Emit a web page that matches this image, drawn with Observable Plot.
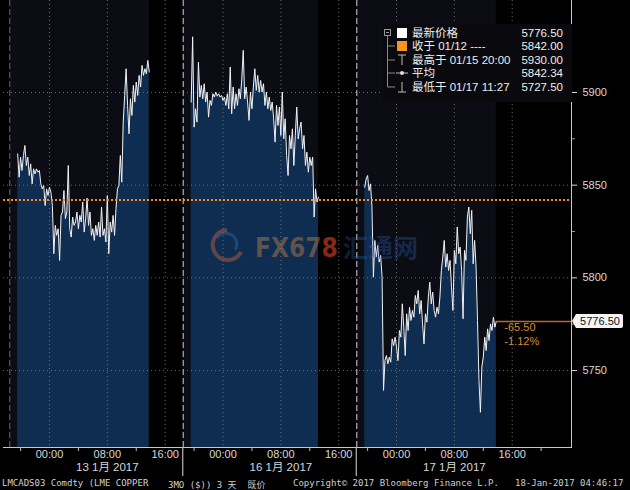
<!DOCTYPE html>
<html><head><meta charset="utf-8">
<script src="https://cdn.jsdelivr.net/npm/d3@7"></script>
<script src="https://cdn.jsdelivr.net/npm/@observablehq/plot@0.6"></script>
<style>
html,body{margin:0;padding:0;background:#000;}
#wrap{position:relative;width:630px;height:490px;overflow:hidden;background:#000;font-family:"Liberation Sans","Noto Sans CJK SC",sans-serif;}
#chart{position:absolute;left:0;top:0;}
#footer{position:absolute;left:0;top:476px;width:630px;height:14px;font-family:"DejaVu Sans Mono","Noto Sans CJK SC",monospace;font-size:9px;color:#cfcfcf;}
#footer span{position:absolute;top:2px;white-space:pre;}
#legend{position:absolute;left:383px;top:24px;width:189px;height:78px;background:#0a0a0e;color:#ececec;font-size:11.5px;}
#legend .row{position:absolute;left:0;width:189px;height:14px;line-height:14px;}
#legend .lab{position:absolute;left:29px;font-family:"Liberation Sans","Noto Sans CJK SC",sans-serif;white-space:pre;}
#legend .val{position:absolute;right:9px;font-family:"Liberation Sans",sans-serif;}
#wm{position:absolute;left:205px;top:224px;}
</style></head>
<body><div id="wrap"><div id="chart"></div><div id="wm"></div><div id="legend"></div><div id="footer"></div></div>
<script>
// ---- data (prices, 12-minute steps) ----
const day13 = [5866.9,5854.3,5865.1,5857.9,5866.0,5871.4,5860.6,5865.1,5855.2,5861.5,5850.7,5858.8,5856.1,5858.8,5857.0,5857.9,5850.7,5848.0,5849.8,5839.0,5848.0,5844.4,5848.9,5846.2,5839.0,5813.0,5828.3,5822.9,5826.5,5809.4,5833.7,5835.5,5847.1,5831.9,5835.5,5860.6,5826.5,5822.0,5832.8,5828.3,5830.1,5835.5,5826.5,5833.7,5830.1,5840.9,5824.7,5831.9,5843.0,5828.3,5835.5,5822.9,5826.5,5820.2,5828.3,5822.9,5830.1,5822.0,5838.2,5822.9,5826.5,5819.3,5844.4,5813.0,5830.1,5824.7,5833.7,5822.9,5837.3,5848.0,5849.8,5866.0,5851.6,5884.0,5898.4,5912.8,5893.0,5877.7,5896.6,5887.6,5903.8,5894.8,5905.6,5898.4,5909.2,5902.9,5914.6,5909.2,5912.8,5910.1,5917.3,5911.0];
const day16 = [5894.8,5930.0,5881.3,5891.2,5884.0,5916.4,5897.5,5903.8,5896.6,5904.7,5894.8,5900.2,5886.7,5895.7,5893.0,5899.3,5897.5,5900.2,5898.0,5899.3,5897.5,5898.4,5895.7,5897.5,5893.0,5899.3,5891.2,5913.7,5888.5,5902.9,5891.2,5899.3,5893.0,5902.0,5896.6,5907.4,5922.7,5896.6,5902.9,5894.8,5884.9,5900.2,5891.2,5902.9,5912.8,5901.1,5909.2,5900.2,5906.5,5900.2,5904.7,5893.0,5900.2,5891.2,5897.5,5890.3,5894.8,5885.8,5873.2,5893.0,5882.2,5892.1,5876.8,5900.2,5875.0,5885.8,5866.0,5855.2,5876.8,5869.6,5880.4,5860.6,5876.8,5892.1,5875.0,5880.4,5884.0,5869.6,5876.8,5860.6,5867.8,5857.0,5865.1,5860.6,5865.1,5832.8,5848.0,5840.9,5843.5];
const day17 = [5848.9,5853.4,5855.2,5847.1,5850.7,5838.2,5800.4,5820.2,5811.2,5817.5,5808.5,5812.1,5800.4,5739.3,5755.4,5758.1,5753.6,5757.2,5754.5,5767.1,5763.5,5768.0,5762.6,5755.4,5771.6,5768.0,5786.0,5773.4,5758.1,5780.6,5771.6,5784.2,5777.0,5782.4,5778.8,5790.5,5786.0,5793.2,5780.6,5787.8,5775.2,5764.4,5780.6,5776.1,5789.6,5797.7,5786.0,5792.3,5782.4,5778.8,5784.2,5780.6,5789.6,5804.0,5811.2,5820.2,5805.8,5813.0,5804.0,5809.4,5795.0,5782.4,5814.8,5807.6,5827.4,5813.0,5816.6,5804.0,5777.9,5814.8,5809.4,5832.8,5838.2,5823.8,5836.4,5807.6,5820.2,5805.8,5777.0,5744.7,5727.5,5751.9,5757.2,5768.0,5760.8,5772.5,5766.2,5775.2,5771.6,5778.8,5773.4,5776.5];
const segStarts = [-4.4, 19.6, 43.6];   // hours from 13 Jan 00:00 (weekend removed)
const stepH = 0.2;
const sessStart = [-5.5, 18.5, 42.5];
const sessEnd = [13.8, 37.2, 61.8];
const dividers = [-5.5, 18.5, 42.5];
const xTicks = [0, 8, 16, 24, 32, 40, 48, 56, 64];
const xTickLabels = ["00:00","08:00","16:00","00:00","08:00","16:00","00:00","08:00","16:00"];
const minorXTicks = [-4, 4, 12, 20, 28, 36, 44, 52, 60, 68];
const dayCenters = [8, 32, 56];
const dayLabels = ["13 1月 2017", "16 1月 2017", "17 1月 2017"];
const yTicks = [5750, 5800, 5850, 5900];
const yMinor = [5775, 5825, 5875];
const prevClose = 5842.00;
const lastPrice = 5776.50;
const changeLabels = ["-65.50", "-1.12%"];
const legendLabels = ["最新价格", "收于 01/12 ----", "最高于 01/15 20:00", "平均", "最低于 01/17 11:27"];
const legendValues = ["5776.50", "5842.00", "5930.00", "5842.34", "5727.50"];
const footerTexts = ["LMCADS03 Comdty (LME COPPER", "3MO ($)) 3 天  既价", "Copyright\u00a9 2017 Bloomberg Finance L.P.", "18-Jan-2017 04:46:17"];
const footerX = [2, 168, 293, 515];

const xDomain = [-6.36, 72.2];
const yDomain = [5708.5, 5949.6];

const rows = [day13, day16, day17].flatMap((vals, s) =>
  vals.map((v, i) => ({seg: s, h: segStarts[s] + i * stepH, v})));
const sessions = sessStart.map((a, i) => ({a, b: sessEnd[i]}));
const lastH = segStarts[2] + (day17.length - 1) * stepH;

const grid = {stroke: "#8a8a8a", strokeOpacity: 0.75, strokeDasharray: "1,3", strokeWidth: 1};

const plot = Plot.plot({
  width: 630, height: 476,
  marginLeft: 3, marginRight: 59, marginTop: 0, marginBottom: 29,
  style: {background: "#000", color: "#d8d8d8", fontFamily: "Liberation Sans, Noto Sans CJK SC, sans-serif", fontSize: "11px"},
  x: {domain: xDomain, type: "linear", label: null},
  y: {domain: yDomain, label: null},
  marks: [
    Plot.rect(sessions, {x1: "a", x2: "b", y1: () => yDomain[0], y2: () => yDomain[1], fill: "#0c0d14"}),
    Plot.areaY(rows, {x: "h", y1: () => yDomain[0], y2: "v", z: "seg", fill: "#0f2d51"}),
    Plot.ruleY(yTicks, grid),
    Plot.ruleX(xTicks, grid),
    Plot.ruleX(dividers.slice(1), {stroke: "#b0b0b0", strokeDasharray: "6,3", strokeWidth: 1.2}),
    Plot.ruleX(dividers.slice(0, 1), {stroke: "#555", strokeDasharray: "6,3", strokeWidth: 1.2}),
    Plot.lineY(rows, {x: "h", y: "v", z: "seg", stroke: "#f2f2f2", strokeWidth: 1}),
    Plot.ruleY([prevClose], {stroke: "#ff8a1e", strokeWidth: 2, strokeDasharray: "2,2"}),
    Plot.ruleY([lastPrice], {x1: lastH, x2: xDomain[1], stroke: "#c0662a", strokeWidth: 1.5}),
    Plot.text([changeLabels[0]], {x: () => lastH, y: () => lastPrice, text: d => d, dx: 8, dy: 6, textAnchor: "start", fill: "#d98a3c", fontSize: 11}),
    Plot.text([changeLabels[1]], {x: () => lastH, y: () => lastPrice, text: d => d, dx: 8, dy: 20, textAnchor: "start", fill: "#d98a3c", fontSize: 11}),
    Plot.frame({anchor: "right", stroke: "#c8c8c8"}),
    Plot.frame({anchor: "bottom", stroke: "#c8c8c8"}),
    Plot.axisY(yTicks, {anchor: "right", label: null, tickSize: 5, tickPadding: 6, tickFormat: d => String(d), stroke: "#d8d8d8", fill: "#d8d8d8", fontSize: 11}),
    Plot.axisY(yMinor, {anchor: "right", label: null, tickSize: 3, tickFormat: () => "", stroke: "#999"}),
    Plot.axisX(xTicks, {anchor: "bottom", label: null, tickSize: 0, tickPadding: 3, tickFormat: d => xTickLabels[xTicks.indexOf(d)], fill: "#d8d8d8", fontSize: 11}),
    Plot.axisX(minorXTicks, {anchor: "bottom", label: null, tickSize: 4, tickFormat: () => "", stroke: "#bbb"}),
    Plot.text(dayCenters, {x: d => d, text: (d, i) => dayLabels[i], frameAnchor: "bottom", dy: 23, fill: "#d8d8d8", fontSize: 11.5, fontFamily: "Liberation Sans, Noto Sans CJK SC, sans-serif"})
  ]
});
document.getElementById("chart").appendChild(plot);

// extras drawn with the plot's own scales
const sx = plot.scale("x"), sy = plot.scale("y");
const svg = d3.select(plot);
const g = svg.append("g");
dividers.slice(1).forEach(d => {
  const px = sx.apply(d);
  g.append("line").attr("x1", px).attr("x2", px).attr("y1", sy.apply(yDomain[0])).attr("y2", 476)
    .attr("stroke", "#b8b8b8").attr("stroke-width", 1.2);
});
const py = sy.apply(lastPrice);
const bx = sx.apply(xDomain[1]);
g.append("path")
  .attr("d", `M${bx+1},${py} L${bx+5},${py-7} L${bx+50},${py-7} Q${bx+52},${py-7} ${bx+52},${py-5} L${bx+52},${py+5} Q${bx+52},${py+7} ${bx+50},${py+7} L${bx+5},${py+7} Z`)
  .attr("fill", "#f4f4f4");
g.append("text").attr("x", bx + 29).attr("y", py).attr("dy", "0.35em").attr("text-anchor", "middle")
  .attr("fill", "#111").attr("font-size", 11).attr("font-family", "Liberation Sans, sans-serif").text(legendValues[0]);

// legend box
const leg = document.getElementById("legend");
const rowTop = [2, 15, 29, 42, 56];
let html = `<svg width="189" height="78" style="position:absolute;left:0;top:0">
<rect x="1.5" y="5.5" width="6" height="6" fill="none" stroke="#999"/><line x1="3" y1="8.5" x2="6" y2="8.5" stroke="#999"/>
<line x1="4.5" y1="11.5" x2="4.5" y2="63" stroke="#888"/>
<line x1="4.5" y1="22" x2="12" y2="22" stroke="#888"/>
<line x1="4.5" y1="36" x2="12" y2="36" stroke="#888"/>
<line x1="4.5" y1="49" x2="12" y2="49" stroke="#888"/>
<line x1="4.5" y1="63" x2="12" y2="63" stroke="#888"/>
<rect x="14" y="4" width="10" height="10" fill="#ffffff"/>
<rect x="14" y="17" width="10" height="10" fill="#f7941d"/>
<line x1="15" y1="31" x2="23" y2="31" stroke="#bbb"/><line x1="19" y1="31" x2="19" y2="41" stroke="#bbb"/>
<line x1="13" y1="49" x2="25" y2="49" stroke="#bbb"/><circle cx="19" cy="49" r="2" fill="#ddd"/>
<line x1="19" y1="58" x2="19" y2="68" stroke="#bbb"/><line x1="15" y1="68" x2="23" y2="68" stroke="#bbb"/>
</svg>`;
legendLabels.forEach((l, i) => {
  html += `<div class="row" style="top:${rowTop[i]}px"><span class="lab">${l}</span><span class="val">${legendValues[i]}</span></div>`;
});
leg.innerHTML = html;

// footer
document.getElementById("footer").innerHTML = footerTexts.map((t, i) => `<span style="left:${footerX[i]}px">${t}</span>`).join("");

// watermark
document.getElementById("wm").innerHTML = `<svg width="240" height="42">
<path d="M22,6 A15,15 0 1 0 36,28" fill="none" stroke="#c8643a" stroke-width="4" opacity="0.45"/>
<path d="M12,14 A10,10 0 1 1 30,26" fill="none" stroke="#3a6ab0" stroke-width="3" opacity="0.4"/>
<text x="50" y="33" font-family="DejaVu Sans Condensed, DejaVu Sans" font-weight="bold" font-size="26"><tspan fill="#c8844a" fill-opacity="0.45">FX67</tspan><tspan fill="#c83a20" fill-opacity="0.7">8</tspan></text>
<text x="138" y="33" font-family="Noto Sans CJK SC" font-weight="bold" font-size="25" fill="#2a5cb0" fill-opacity="0.35">汇通网</text>
</svg>`;
</script>
</body></html>
